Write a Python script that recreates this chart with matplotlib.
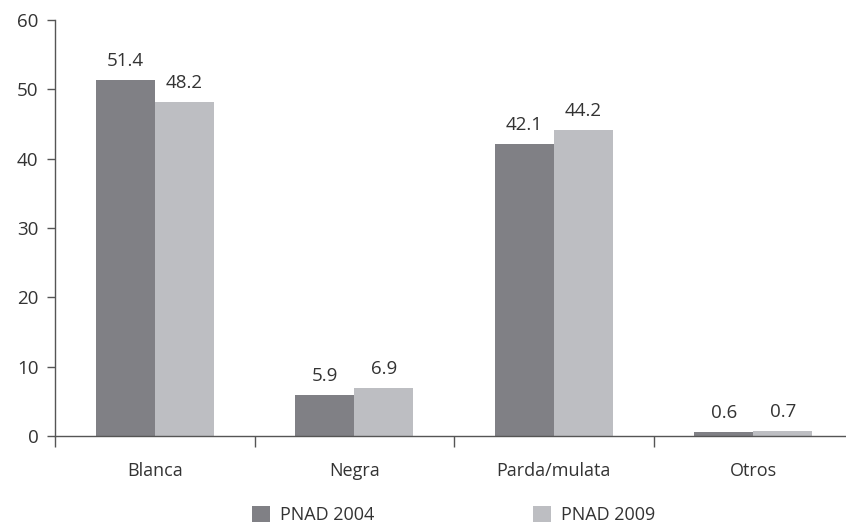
import matplotlib
matplotlib.use("Agg")
import matplotlib.pyplot as plt
import numpy as np

categories = ["Blanca", "Negra", "Parda/mulata", "Otros"]
series_names = ["PNAD 2004", "PNAD 2009"]
pnad_2004 = [51.4, 5.9, 42.1, 0.6]
pnad_2009 = [48.2, 6.9, 44.2, 0.7]
yticks = [0, 10, 20, 30, 40, 50, 60]

colors = ["#808085", "#bdbec2"]
text_color = "#333333"
axis_color = "#555555"

plt.rcParams["font.family"] = ["Open Sans", "DejaVu Sans"]
plt.rcParams["font.size"] = 13

W, H = 846, 527
fig = plt.figure(figsize=(W / 100, H / 100), dpi=100)
# the axis runs slightly past the right edge of the figure
ax = fig.add_axes([55 / W, 91 / H, 798 / W, 416 / H])

x = np.arange(len(categories))
bw = 0.296
for i, (vals, name) in enumerate(zip([pnad_2004, pnad_2009], series_names)):
    pos = x + (i - 0.5) * bw
    bars = ax.bar(pos, vals, width=bw, color=colors[i], label=name, zorder=2)
    for b, v in zip(bars, vals):
        ax.annotate(f"{v:.1f}", (b.get_x() + b.get_width() / 2, v),
                    xytext=(0, 7), textcoords="offset points",
                    ha="center", va="bottom", color=text_color, fontsize=13.5)

ax.set_xlim(-0.5, len(categories) - 0.5)
ax.set_ylim(0, 60)
ax.set_yticks(yticks)
ax.set_xticks(np.arange(-0.5, len(categories), 1.0))
ax.set_xticklabels([])
ax.set_xticks(x, minor=True)
ax.set_xticklabels(categories, minor=True)
ax.tick_params(axis="x", which="major", direction="out", length=8,
               color=axis_color, width=1)
ax.tick_params(axis="x", which="minor", length=0, pad=19, colors=text_color)
ax.tick_params(axis="y", direction="out", length=6, color=axis_color,
               width=1, labelcolor=text_color, pad=6, labelsize=13.5)

for s in ["top", "right"]:
    ax.spines[s].set_visible(False)
for s in ["left", "bottom"]:
    ax.spines[s].set_color(axis_color)
    ax.spines[s].set_linewidth(1)

fig.legend(loc="lower center", bbox_to_anchor=(0.536, -0.026), ncol=2,
           frameon=False, handlelength=1.0, handleheight=1.0,
           columnspacing=8.8, handletextpad=0.55, labelcolor=text_color)

fig.savefig("out.png", dpi=100)
